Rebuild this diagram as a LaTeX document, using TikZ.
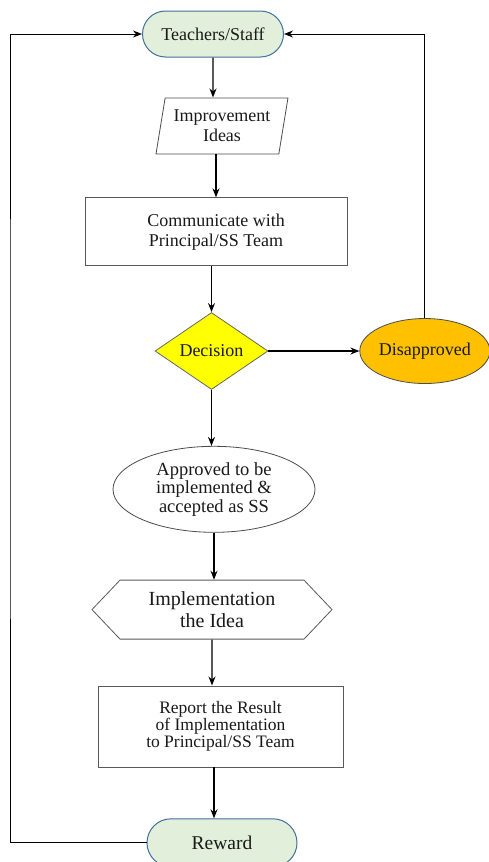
\documentclass[tikz,border=0pt]{standalone}
\usepackage{fontspec}
\setmainfont{Liberation Serif}
\usepackage{tikz}
\usetikzlibrary{positioning, shapes.geometric, shapes.misc, shapes.symbols, arrows.meta}
\definecolor{termfill}{HTML}{E2EFDA}
\definecolor{termline}{HTML}{41719C}
\definecolor{decfill}{HTML}{FFFF00}
\definecolor{dispfill}{HTML}{FFC000}
\tikzstyle{arrow} = [line width=1.3pt,->,>={Stealth[length=9pt,width=7pt]}]
\tikzstyle{backline} = [line width=1pt,->,>={Stealth[length=9pt,width=7pt]}]

\begin{document}
\begin{tikzpicture}[x=1pt, y=-1pt,
every node/.style={inner sep=0pt, align=center, text=black!90, font=\fontsize{18}{20}\selectfont},
termnode/.style={rounded rectangle, draw=termline, fill=termfill, line width=1pt, minimum width=141pt, minimum height=46pt},
ionode/.style={trapezium, trapezium stretches body=true, trapezium left angle=74, trapezium right angle=106, draw=black!70, line width=0.8pt, minimum width=132pt, minimum height=56pt},
procnode/.style={rectangle, draw=black!65, line width=0.8pt},
decnode/.style={diamond, draw=black!60, fill=decfill, line width=0.8pt, aspect=1.47, minimum width=113pt, minimum height=77pt},
ovalnode/.style={ellipse, draw=black!70, line width=0.8pt},
prepnode/.style={signal, signal to=west and east, signal pointer angle=93, draw=black!65, line width=0.8pt, minimum width=240pt, minimum height=59pt}
]
\useasboundingbox (0,0) rectangle (489,862);
\node[termnode] (teach) at (213,34) {Teachers/Staff};
\node[ionode] (ideas) [below=40pt of teach, xshift=9pt] {Improvement\\Ideas};
\node[procnode, minimum width=262pt, minimum height=68pt] (comm) [below=43pt of ideas, xshift=-6pt] {Communicate with\\Principal/SS Team};
\node[decnode] (dec) [below=46pt of comm, xshift=-4.5pt] {Decision};
\node[ovalnode, fill=dispfill, minimum width=130pt, minimum height=65pt] (disap) [right=91pt of dec] {Disapproved};
\node[ovalnode, minimum width=202pt, minimum height=86pt, font=\fontsize{18.5}{18.5}\selectfont] (appr) [below=56pt of dec, xshift=2.5pt] {Approved to be\\implemented \&\\accepted as SS};
\node[prepnode, font=\fontsize{20}{21.5}\selectfont] (impl) [below=47pt of appr, xshift=-2pt] {Implementation\\the Idea};
\node[procnode, minimum width=245pt, minimum height=81pt, font=\fontsize{17.5}{17}\selectfont] (report) [below=46pt of impl, xshift=8.5pt] {Report the Result\\of Implementation\\to Principal/SS Team};
\node[termnode, minimum width=150pt, minimum height=48pt, font=\fontsize{19.5}{20}\selectfont] (reward) [below=51pt of report, xshift=1.5pt] {Reward};
\coordinate (leftrail) at (10,400);

\draw[arrow] (teach) -- (teach |- ideas.north);
\draw[arrow] (ideas.south -| comm) -- (comm);
\draw[arrow] (comm.south -| dec) -- (dec);
\draw[arrow] (dec) -- (dec |- appr.north);
\draw[arrow] (dec) -- (disap);
\draw[arrow] (appr) -- (appr |- impl.north);
\draw[arrow] (impl) -- (impl |- report.north);
\draw[arrow] (report.south -| appr) -- (appr |- reward.north);

\draw[backline] (disap.north) |- (teach.east);
\draw[backline] (reward.west) -| (leftrail) |- (teach.west);
\end{tikzpicture}
\end{document}
